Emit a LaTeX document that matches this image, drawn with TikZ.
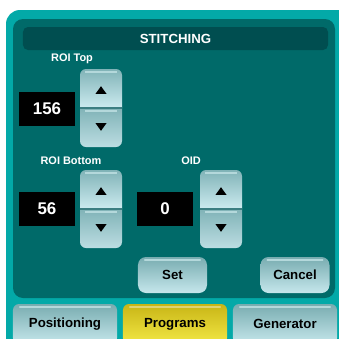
\documentclass[tikz,border=0pt]{standalone}
\usepackage{fontspec}
\setmainfont{Liberation Sans}
\definecolor{outerteal}{HTML}{03A9A8}
\definecolor{panelteal}{HTML}{006A69}
\definecolor{titleteal}{HTML}{004E50}
\definecolor{btntop}{HTML}{78ACB0}
\definecolor{btnbot}{HTML}{C6E7EC}
\definecolor{spintop}{HTML}{80B3B7}
\definecolor{spinbot}{HTML}{CDEBF0}
\definecolor{spinbotb}{HTML}{BCDDE2}
\definecolor{spinlinec}{HTML}{3C7E82}
\definecolor{glossc}{HTML}{B4D8DB}
\definecolor{yeltop}{HTML}{C8B516}
\definecolor{yelbot}{HTML}{F3E845}
\newcommand\spinbox[2]{%
  \path[top color=spintop,bottom color=spinbot]
    (#1,#2+39) [rounded corners=6bp] -- (#1,#2) -- (#1+42,#2) [sharp corners] -- (#1+42,#2+39) -- cycle;
  \path[top color=spintop,bottom color=spinbotb]
    (#1+42,#2+39) [rounded corners=6bp] -- (#1+42,#2+78) -- (#1,#2+78) [sharp corners] -- (#1,#2+39) -- cycle;
  \draw[glossc,line width=1.2bp] (#1+5,#2+3) -- ++(32,0);
  \draw[glossc,line width=1.2bp] (#1+5,#2+42) -- ++(32,0);
  \draw[spinlinec,line width=1.5bp] (#1,#2+39) -- ++(42,0);}
\newcommand\uparr[2]{\coordinate (#1) at (#2);
  \fill[black] (#1) ++(-5.5,3.8) -- ++(11,0) -- ++(-5.5,-7.6) -- cycle;}
\newcommand\dnarr[2]{\coordinate (#1) at (#2);
  \fill[black] (#1) ++(-5.5,-3.8) -- ++(11,0) -- ++(-5.5,7.6) -- cycle;}
\tikzset{
  lbl/.style={text=white,font=\bfseries\fontsize{11}{13}\selectfont,inner sep=0},
  numbox/.style={fill=black,text=white,minimum width=56bp,minimum height=34bp,inner sep=0,
    font=\bfseries\fontsize{17}{19}\selectfont},
  btn/.style={rounded corners=8bp,top color=btntop,bottom color=btnbot,
    minimum width=69bp,minimum height=36bp,inner sep=0,text=black,
    font=\bfseries\fontsize{13.3}{15}\selectfont},
  tabbtn/.style={rounded corners=6bp,top color=btntop,bottom color=btnbot,
    minimum width=104bp,minimum height=40bp,inner sep=0,text=black,
    font=\bfseries\fontsize{13.3}{15}\selectfont},
  tabsel/.style={tabbtn,top color=yeltop,bottom color=yelbot},
  glossline/.style={line width=1.5bp,line cap=round},
}
\begin{document}
\begin{tikzpicture}[x=1bp,y=-1bp]
\clip (0,0) rectangle (339,339);
\fill[white] (0,0) rectangle (339,339);
\fill[outerteal,rounded corners=14bp] (6,10) rectangle (360,360);
\fill[panelteal,rounded corners=10bp] (13,19) rectangle (335,298);
\node[fill=titleteal,rounded corners=5bp,minimum width=305bp,minimum height=23bp,inner sep=0,
  text=white,font=\bfseries\fontsize{13.3}{15}\selectfont] (title) at (175.5,38.5) {STITCHING};
% spinner backgrounds
\spinbox{80}{69}
\spinbox{80}{170}
\spinbox{200}{170}
% labels and values
\node[lbl] (lroitop) at (72,59) {ROI Top};
\node[numbox] (n1) at (47,109) {156};
\node[lbl] (lroibot) at (71,161) {ROI Bottom};
\node[numbox] (n2) at (47,209) {56};
\node[lbl] (loid) at (191,161) {OID};
\node[numbox] (n3) at (165,209) {0};
% buttons
\node[btn] (set) at (172.5,275) {Set};
\node[btn] (cancel) at (295,275) {Cancel};
% tabs
\node[tabbtn] (tpos) at (65,324) {Positioning};
\node[tabsel] (tprog) at (175,324) {Programs};
\node[tabbtn] (tgen) at (285,324) {Generator};
% gloss highlights
\foreach \n in {set,cancel,tpos,tgen}
  \draw[glossline,glossc] ([xshift=7bp,yshift=-3bp]\n.north west) -- ([xshift=-7bp,yshift=-3bp]\n.north east);
\draw[glossline,yeltop!60!white] ([xshift=7bp,yshift=-3bp]tprog.north west) -- ([xshift=-7bp,yshift=-3bp]tprog.north east);
% arrows
\uparr{up1}{101,90}
\dnarr{dn1}{101,127}
\uparr{up2}{101,191}
\dnarr{dn2}{101,228}
\uparr{up3}{221,191}
\dnarr{dn3}{221,228}
\end{tikzpicture}
\end{document}
